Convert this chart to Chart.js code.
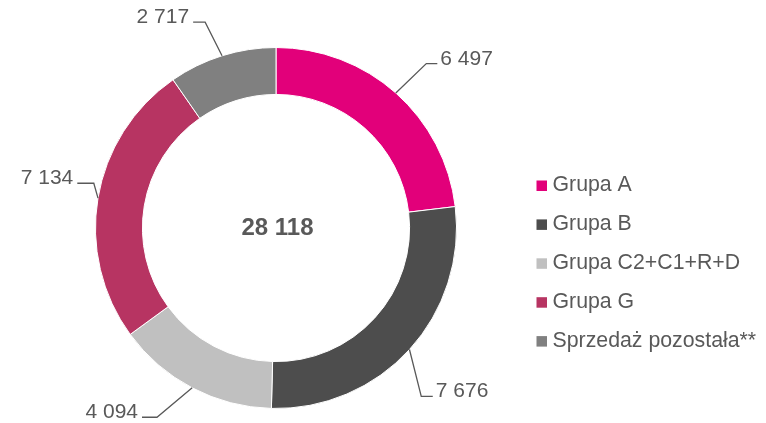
<!DOCTYPE html>
<html lang="pl">
<head>
<meta charset="utf-8">
<title>Sprzedaż wg grup</title>
<script src="https://cdn.jsdelivr.net/npm/chart.js@4/dist/chart.umd.min.js"></script>
<style>
  html, body { margin: 0; padding: 0; background: #ffffff; }
  #wrap { width: 766px; height: 423px; }
</style>
</head>
<body>
<div id="wrap"><canvas id="chart" width="766" height="423"></canvas></div>
<script>
// Segments of the ring, clockwise from 12 o'clock
const categories = ['Grupa A', 'Grupa B', 'Grupa C2+C1+R+D', 'Grupa G', 'Sprzedaż pozostała**'];
const values = [6497, 7676, 4094, 7134, 2717];
const sliceColors = ['#e2007a', '#4d4d4d', '#c0c0c0', '#b73462', '#808080'];
const totalLabel = '28 118';

const TEXT_COLOR = '#595959';
const FONT = '"Liberation Sans", Arial, sans-serif';

// Elbow of each leader line, relative to the point on the outer rim at the slice middle
const leaderElbows = [[30.5, -29.4], [11.8, 46.9], [-35.2, 29.4], [-4.2, -14.8], [-16.9, -33.6]];
const leaderTails = [11, 11.5, 15, 16.5, 12];

function formatNumber(v) {
  return String(v).replace(/\B(?=(\d{3})+(?!\d))/g, ' ');
}

const calloutPlugin = {
  id: 'callouts',
  afterDatasetsDraw(chart) {
    const ctx = chart.ctx;
    const meta = chart.getDatasetMeta(0);
    ctx.save();
    ctx.strokeStyle = TEXT_COLOR;
    ctx.lineWidth = 1.3;
    ctx.fillStyle = TEXT_COLOR;
    ctx.font = '21px ' + FONT;
    ctx.textBaseline = 'alphabetic';
    meta.data.forEach((arc, i) => {
      const p = arc.getProps(['x', 'y', 'startAngle', 'endAngle', 'outerRadius'], true);
      const mid = (p.startAngle + p.endAngle) / 2;
      const sx = p.x + Math.cos(mid) * p.outerRadius;
      const sy = p.y + Math.sin(mid) * p.outerRadius;
      const ex = sx + leaderElbows[i][0];
      const ey = sy + leaderElbows[i][1];
      const right = ex >= p.x;
      const tx = ex + (right ? leaderTails[i] : -leaderTails[i]);
      ctx.beginPath();
      ctx.moveTo(sx, sy);
      ctx.lineTo(ex, ey);
      ctx.lineTo(tx, ey);
      ctx.stroke();
      ctx.textAlign = right ? 'left' : 'right';
      ctx.fillText(formatNumber(chart.data.datasets[0].data[i]), tx + (right ? 3 : -4), ey + 1);
    });
    // total in the hole
    const a = chart.chartArea;
    ctx.font = 'bold 24px ' + FONT;
    ctx.textAlign = 'center';
    ctx.fillText(totalLabel, (a.left + a.right) / 2 + 1.5, 235);
    ctx.restore();
  }
};

const legendPlugin = {
  id: 'sideLegend',
  afterDraw(chart, args, opts) {
    const ctx = chart.ctx;
    const ds = chart.data.datasets[0];
    ctx.save();
    ctx.font = opts.fontSize + 'px ' + FONT;
    ctx.textAlign = 'left';
    ctx.textBaseline = 'alphabetic';
    chart.data.labels.forEach((label, i) => {
      const base = opts.top + i * opts.step;
      ctx.fillStyle = ds.backgroundColor[i];
      ctx.fillRect(opts.left, base - opts.box, opts.box, opts.box);
      ctx.fillStyle = TEXT_COLOR;
      ctx.fillText(label, opts.left + opts.box + opts.gap, base);
    });
    ctx.restore();
  }
};

new Chart(document.getElementById('chart'), {
  type: 'doughnut',
  data: {
    labels: categories,
    datasets: [{
      data: values,
      backgroundColor: sliceColors,
      borderColor: '#ffffff',
      borderWidth: 1
    }]
  },
  options: {
    responsive: false,
    devicePixelRatio: 1,
    animation: false,
    cutout: '74%',
    layout: { padding: { left: 95, right: 309, top: 47, bottom: 14 } },
    plugins: {
      legend: { display: false },
      tooltip: { enabled: false },
      sideLegend: { left: 536.5, top: 191, step: 38.9, box: 10.5, gap: 5.5, fontSize: 21.3 }
    }
  },
  plugins: [calloutPlugin, legendPlugin]
});
</script>
</body>
</html>
